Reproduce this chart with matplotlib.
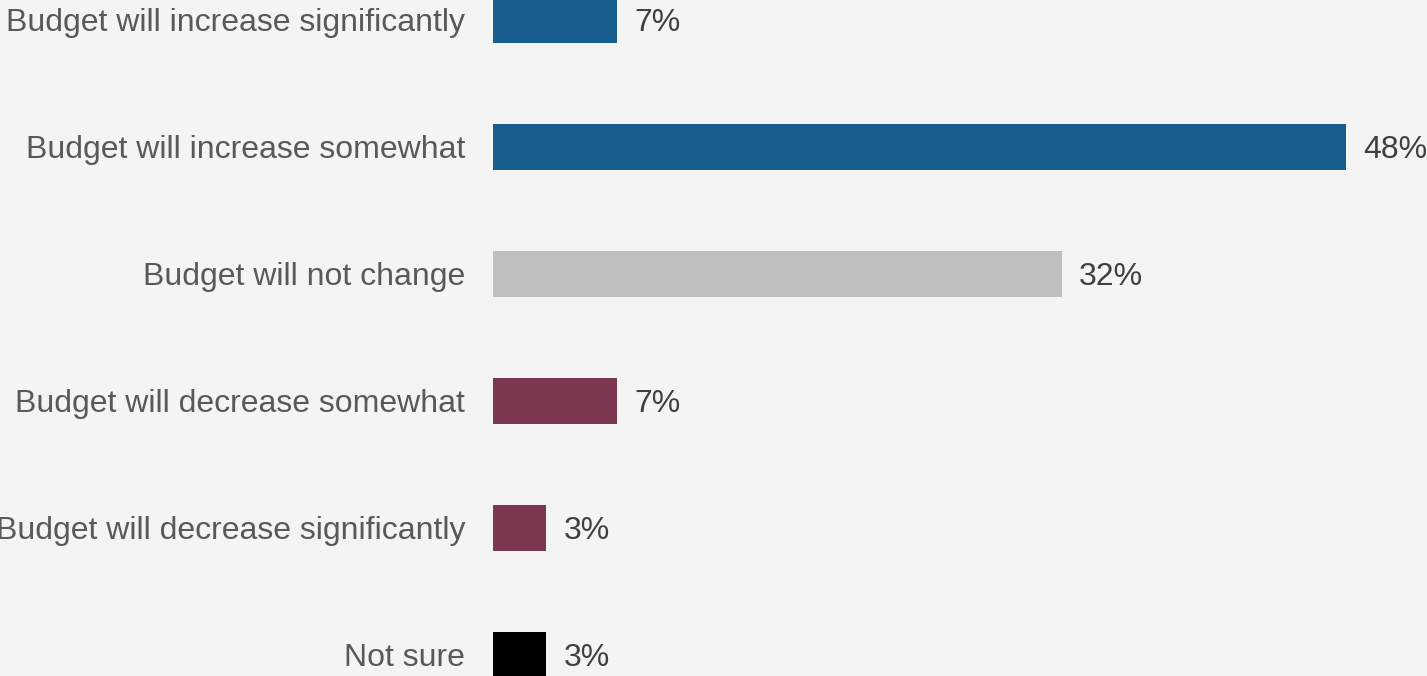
import matplotlib
matplotlib.use("Agg")
import matplotlib.pyplot as plt

categories = [
    "Budget will increase significantly",
    "Budget will increase somewhat",
    "Budget will not change",
    "Budget will decrease somewhat",
    "Budget will decrease significantly",
    "Not sure",
]
values = [7, 48, 32, 7, 3, 3]
colors = ["#175E8E", "#175E8E", "#BFBFBF", "#7B3751", "#7B3751", "#000000"]

plt.rcParams["font.family"] = ["Liberation Sans", "DejaVu Sans"]

bg = "#F4F4F4"
fig = plt.figure(figsize=(14.27, 6.76), dpi=100, facecolor=bg)
ax = fig.add_axes([0, 0, 1, 1], facecolor=bg)

ypos = list(range(len(categories)))
ax.barh(ypos, values, height=0.36, color=colors)

# scale: 48% spans from x=493px to x=1346px, rows are 127px apart
px_per_unit = (1346 - 493) / 48
row_px = 127
ax.set_xlim(-493 / px_per_unit, (1427 - 493) / px_per_unit)
ax.set_ylim(5 + 21 / row_px, -20 / row_px)

fs = 23
label_gap = 28 / px_per_unit
value_gap = 17 / px_per_unit
baseline_shift = 11 / row_px  # put the cap-height middle on the bar centre
for y, cat, v in zip(ypos, categories, values):
    ax.text(-label_gap, y + baseline_shift, cat, ha="right", va="baseline",
            fontsize=fs, color="#595959")
    ax.text(v + value_gap, y + baseline_shift, f"{v}%", ha="left", va="baseline",
            fontsize=fs, color="#404040")

ax.axis("off")
fig.savefig("out.png", dpi=100, facecolor=bg)
